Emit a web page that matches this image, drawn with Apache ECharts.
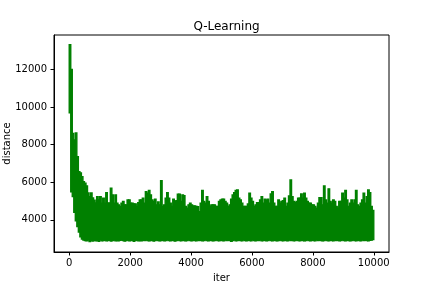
<!DOCTYPE html>
<html>
<head>
<meta charset="utf-8">
<script src="https://cdn.jsdelivr.net/npm/echarts@6/dist/echarts.min.js"></script>
<style>
html,body{margin:0;padding:0;background:#fff;}
#chart{width:432px;height:288px;}
</style>
</head>
<body>
<div id="chart"></div>
<script>
// Each bin covers 50 iterations; values are the lowest and highest distance in the bin.
const binWidth = 50;
const binHigh = [
  13330, 12000, 8600, 8250, 8620, 7360, 6560, 6500, 6300, 6030,
  5950, 5800, 5430, 5240, 5430, 5170, 5050, 4900, 5240, 5060,
  5240, 4885, 5150, 4885, 5450, 4885, 4900, 5680, 5330, 4885,
  5330, 4885, 4800, 4710, 4885, 4975, 4800, 4800, 5060, 5060,
  4885, 4885, 4850, 4850, 4710, 4920, 5060, 5060, 5150, 4885,
  5500, 5420, 5560, 5330, 5060, 4975, 5100, 4800, 4950, 4800,
  6090, 4710, 4800, 5150, 5450, 5150, 4885, 4710, 5100, 4975,
  5020, 5360, 5360, 4975, 5330, 5290, 4710, 4620, 4800, 4885,
  4800, 4740, 4740, 4710, 4700, 4440, 4885, 5560, 4975, 4885,
  5240, 4975, 4710, 4800, 4800, 4800, 4710, 4710, 4975, 5060,
  5100, 5100, 4975, 4885, 4710, 4800, 5100, 5330, 5450, 5560,
  5590, 5150, 5060, 4885, 4710, 4710, 4710, 4850, 5420, 5150,
  4975, 4710, 4800, 4920, 4920, 5060, 5240, 4885, 5100, 5060,
  5100, 4885, 5380, 5500, 4885, 4710, 4710, 5060, 4885, 4975,
  5020, 5150, 4710, 4885, 5270, 6120, 5240, 4975, 4920, 4975,
  5150, 5150, 5380, 5150, 5420, 5150, 4975, 4885, 4885, 4800,
  4800, 4710, 4620, 4885, 5186, 5186, 4800, 5806, 5060, 4885,
  5650, 4975, 4885, 5060, 4975, 4710, 4620, 4975, 4975, 5420,
  5150, 5560, 5060, 4710, 4885, 5060, 4885, 5060, 5560, 4800,
  4710, 4885, 5060, 5420, 4885, 5240, 5590, 5450, 4710, 4500
];
const binLow = [
  9700, 5500, 5240, 4400, 3950, 3650, 3350, 3100, 2980, 2930,
  2900, 2880, 2920, 2850, 2900, 2870, 2910, 2880, 2900, 2860,
  2920, 2890, 2900, 2930, 2880, 2900, 2910, 2870, 2900, 2920,
  2890, 2900, 2880, 2910, 2930, 2900, 2870, 2900, 2920, 2890,
  2900, 2910, 2860, 2900, 2920, 2890, 2900, 2880, 2910, 2900,
  2930, 2900, 2880, 2900, 2910, 2870, 2900, 2920, 2900, 2890,
  2900, 2910, 2880, 2900, 2930, 2900, 2890, 2910, 2900, 2870,
  2900, 2920, 2900, 2880, 2910, 2900, 2890, 2900, 2930, 2900,
  2880, 2910, 2900, 2890, 2920, 2900, 2910, 2880, 2900, 2930,
  2900, 2890, 2910, 2900, 2880, 2900, 2920, 2900, 2890, 2910,
  2900, 2880, 2920, 2900, 2910, 2900, 2860, 2900, 2920, 2890,
  2900, 2910, 2900, 2880, 2920, 2900, 2890, 2910, 2900, 2880,
  2930, 2900, 2890, 2910, 2900, 2920, 2880, 2900, 2910, 2890,
  2900, 2920, 2900, 2880, 2910, 2900, 2890, 2900, 2930, 2900,
  2880, 2910, 2900, 2890, 2920, 2900, 2910, 2880, 2900, 2920,
  2900, 2890, 2910, 2900, 2880, 2900, 2920, 2900, 2890, 2910,
  2900, 2880, 2920, 2900, 2910, 2900, 2890, 2900, 2930, 2900,
  2880, 2910, 2900, 2890, 2920, 2900, 2910, 2880, 2900, 2920,
  2900, 2890, 2910, 2900, 2880, 2900, 2920, 2900, 2890, 2910,
  2900, 2880, 2920, 2900, 2910, 2900, 2890, 2910, 2920, 2950
];
const xTicks = [0, 2000, 4000, 6000, 8000, 10000];
const yTicks = [4000, 6000, 8000, 10000, 12000];

const data = binHigh.map((h, i) => [i * binWidth, (i + 1) * binWidth, binLow[i], h]);

const font = 'DejaVu Sans';
const plain = v => String(v);
const chart = echarts.init(document.getElementById('chart'), null, {renderer: 'canvas'});
chart.setOption({
  animation: false,
  backgroundColor: '#fff',
  title: {
    text: 'Q-Learning', left: 221.5, top: 16, textAlign: 'center',
    textStyle: {fontFamily: font, fontSize: 12, fontWeight: 'normal', color: '#000'}
  },
  grid: {left: 54, right: 43, top: 35, bottom: 36, containLabel: false, outerBoundsMode: 'none',
         show: true, borderColor: '#000', borderWidth: 1, backgroundColor: 'transparent'},
  xAxis: {
    type: 'value', min: -500, max: 10500,
    name: 'iter', nameLocation: 'middle', nameGap: 21,
    nameTextStyle: {fontFamily: font, fontSize: 10, color: '#000'},
    axisLine: {show: true, onZero: false, lineStyle: {color: '#000', width: 1}},
    axisTick: {show: true, length: 3.5, customValues: xTicks, lineStyle: {color: '#000'}},
    axisLabel: {customValues: xTicks, formatter: plain, margin: 6, fontFamily: font, fontSize: 10, color: '#000'},
    splitLine: {show: false}
  },
  yAxis: {
    type: 'value', min: 2290, max: 13840,
    name: 'distance', nameLocation: 'middle', nameGap: 42, nameRotate: 90, nameMoveOverlap: false,
    nameTextStyle: {fontFamily: font, fontSize: 10, color: '#000'},
    axisLine: {show: true, onZero: false, lineStyle: {color: '#000', width: 1}},
    axisTick: {show: true, length: 3.5, customValues: yTicks, lineStyle: {color: '#000'}},
    axisLabel: {customValues: yTicks, formatter: plain, margin: 7, fontFamily: font, fontSize: 10, color: '#000'},
    splitLine: {show: false}
  },
  series: [{
    type: 'custom',
    encode: {x: [0, 1], y: [2, 3]},
    data: data,
    renderItem: function (params, api) {
      const p1 = api.coord([api.value(0), api.value(3)]);
      const p2 = api.coord([api.value(1), api.value(2)]);
      return {
        type: 'rect',
        shape: {x: p1[0], y: p1[1], width: p2[0] - p1[0], height: p2[1] - p1[1]},
        style: {fill: '#008000', stroke: '#008000', lineWidth: 1.4}
      };
    }
  }]
});
</script>
</body>
</html>
